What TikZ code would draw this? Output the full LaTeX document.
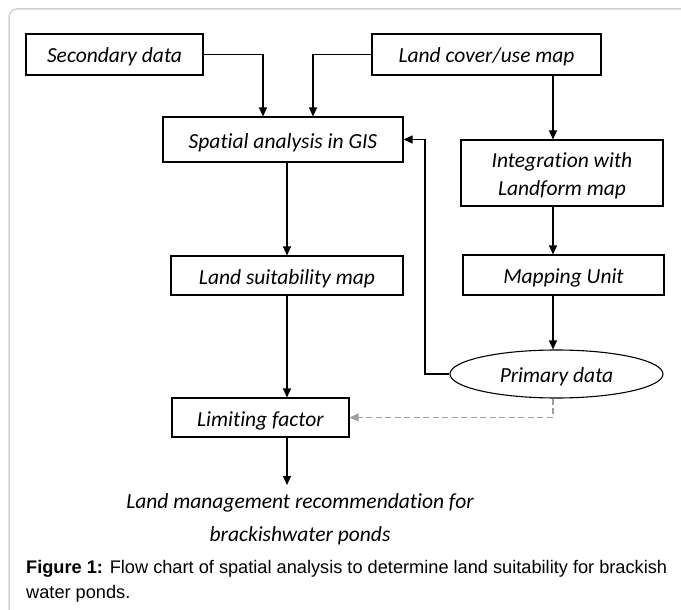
\documentclass[tikz,border=0pt]{standalone}
\usepackage{fontspec}
\newfontfamily\chartfont[Ligatures=NoCommon]{Carlito}
\newfontfamily\capfont{Liberation Sans}
\usetikzlibrary{arrows.meta,shapes.geometric,positioning}

\begin{document}
\begin{tikzpicture}[x=1pt,y=-1pt,>={Triangle[length=9pt,width=8pt]},
    box/.style={draw,line width=1.1pt,inner sep=0pt,align=center,
      text height=19pt,text depth=2pt,
      font=\chartfont\itshape\fontsize{21.5}{28}\selectfont},
    flow/.style={->,line width=1.1pt},
    link/.style={->,line width=1.1pt,draw=gray!75,dash pattern=on 6pt off 3.5pt}]

  \useasboundingbox (0,0) rectangle (681,610);
  \clip (0,0) rectangle (681,610);
  \draw[gray!35,line width=1.5pt,rounded corners=8pt] (9,9) rectangle (720,660); % frame

  \node[box,minimum width=177pt,minimum height=41pt] (sec) at (114.5,54.5) {Secondary data};
  \node[box,minimum width=229pt,minimum height=41pt] (lcu) at (486.5,54.5) {Land cover/use map};
  \node[box,minimum width=240pt,minimum height=45pt] (gis) at (283,139.5) {Spatial analysis in GIS};
  \node[box,minimum width=202pt,minimum height=66pt,text height=47pt] (integ) at (562,173) {Integration with\\Landform map};
  \node[box,minimum width=232pt,minimum height=39pt] (lsm) at (287,275.5) {Land suitability map};
  \node[box,minimum width=201pt,minimum height=40pt] (mu) at (563.5,275) {Mapping Unit};
  \node[box,ellipse,minimum width=213pt,minimum height=48pt] (pd) at (556.5,374) {Primary data};
  \node[box,minimum width=177pt,minimum height=39pt] (lf) at (260.5,417.5) {Limiting factor};
  \node[font=\chartfont\itshape\fontsize{21.5}{33}\selectfont,align=center,inner sep=0pt]
    (rec) at (300,519) {Land management recommendation for\\brackishwater ponds};

  \coordinate (col) at (553,0);  % right column of arrows
  \coordinate (back) at (425,0); % feedback line
  \coordinate (recin) at (287,485);

  \draw[flow] (sec.east) -| ([xshift=-20pt]gis.north);
  \draw[flow] (lcu.west) -| ([xshift=30pt]gis.north);
  \draw[flow] (lcu.south -| col) -- (integ.north -| col);
  \draw[flow] (integ.south -| col) -- (mu.north -| col);
  \draw[flow] (mu.south -| col) -- (pd.north -| col);
  \draw[flow] (pd.west) -- (pd.west -| back) |- (gis.east);
  \draw[flow] (gis.south -| lsm.north) -- (lsm.north);
  \draw[flow] (lsm.south) -- (lsm.south |- lf.north);
  \draw[flow] (lf.south -| recin) -- (recin);
  \draw[link] (pd.south -| col) |- (lf.east);

  \node[font=\capfont\fontsize{18.2}{25}\selectfont,align=left,anchor=north west,inner sep=0pt]
    (cap) at (26,560) {\textbf{Figure 1:} Flow chart of spatial analysis to determine land suitability for brackish\\water ponds.};
\end{tikzpicture}
\end{document}
